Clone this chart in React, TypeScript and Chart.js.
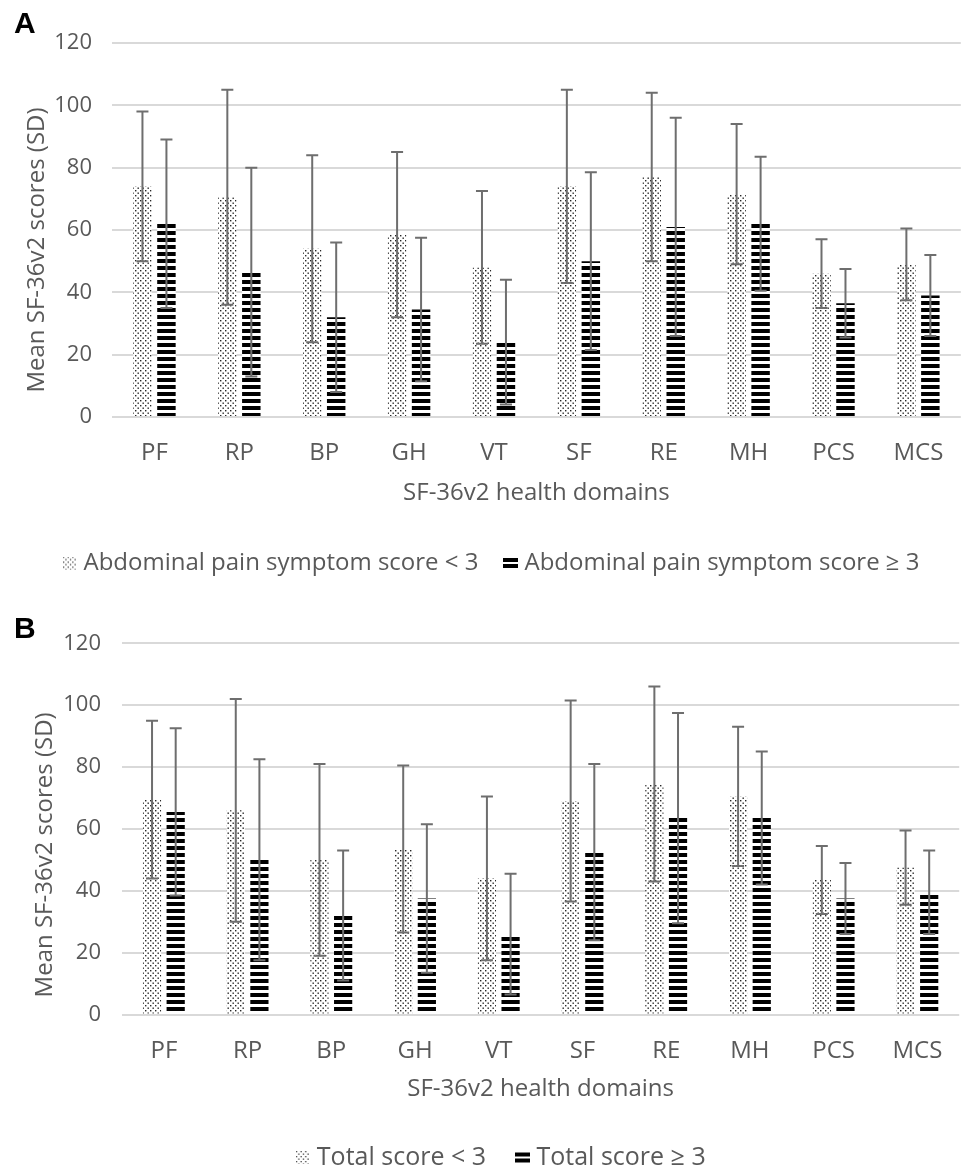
import React, { useEffect, useRef } from 'react';
import { Chart, registerables } from 'chart.js';
Chart.register(...registerables);

const categories = ['PF', 'RP', 'BP', 'GH', 'VT', 'SF', 'RE', 'MH', 'PCS', 'MCS'];
const yTickValues = [0, 20, 40, 60, 80, 100, 120];
const yTitle = 'Mean SF-36v2 scores (SD)';
const xTitle = 'SF-36v2 health domains';

const aLabels = ['Abdominal pain symptom score < 3', 'Abdominal pain symptom score ≥ 3'];
const aLowMean = [74, 70.5, 54, 58.5, 48, 74, 77, 71.5, 46, 49];
const aLowSD = [24, 34.5, 30, 26.5, 24.5, 31, 27, 22.5, 11, 11.5];
const aHighMean = [62, 46.5, 32, 34.5, 24, 50, 61, 62, 36.5, 39];
const aHighSD = [27, 33.5, 24, 23, 20, 28.5, 35, 21.5, 11, 13];

const bLabels = ['Total score < 3', 'Total score ≥ 3'];
const bLowMean = [69.5, 66, 50, 53.5, 44, 69, 74.5, 70.5, 43.5, 47.5];
const bLowSD = [25.5, 36, 31, 27, 26.5, 32.5, 31.5, 22.5, 11, 12];
const bHighMean = [65.5, 50, 32, 37.5, 26, 52.5, 63.5, 63.5, 37.5, 39.5];
const bHighSD = [27, 32.5, 21, 24, 19.5, 28.5, 34, 21.5, 11.5, 13.5];

const FONT = '"Open Sans", "Noto Sans", sans-serif';
const TEXT = '#595959';
const GRID = '#d9d9d9';
const ERR = '#6e6e6e';

function dotTile(): HTMLCanvasElement {
  const c = document.createElement('canvas');
  c.width = 5;
  c.height = 5;
  const g = c.getContext('2d')!;
  g.fillStyle = '#ffffff';
  g.fillRect(0, 0, 5, 5);
  g.fillStyle = '#262626';
  g.fillRect(0, 0, 1.4, 1.4);
  g.fillRect(2.5, 2.5, 1.4, 1.4);
  return c;
}

function stripeTile(): HTMLCanvasElement {
  const c = document.createElement('canvas');
  c.width = 2;
  c.height = 7;
  const g = c.getContext('2d')!;
  g.fillStyle = '#ffffff';
  g.fillRect(0, 0, 2, 7);
  g.fillStyle = '#000000';
  g.fillRect(0, 0, 2, 4);
  return c;
}

function dotIcon(): HTMLCanvasElement {
  const c = document.createElement('canvas');
  c.width = 13;
  c.height = 13;
  const g = c.getContext('2d')!;
  g.fillStyle = '#444';
  for (let y = 0; y < 13; y += 2.5) {
    const row = Math.round(y / 2.5);
    for (let x = row % 2 ? 2.3 : 0; x < 13; x += 4.6) {
      g.fillRect(x, y, 1.3, 1.3);
    }
  }
  return c;
}

function eqIcon(): HTMLCanvasElement {
  const c = document.createElement('canvas');
  c.width = 15;
  c.height = 12;
  const g = c.getContext('2d')!;
  g.fillStyle = '#000';
  g.fillRect(0, 1, 15, 4);
  g.fillRect(0, 7, 15, 4);
  return c;
}

const errorBars = {
  id: 'errorBars',
  afterDatasetsDraw(chart: any) {
    const ctx = chart.ctx;
    const ys = chart.scales.y;
    chart.data.datasets.forEach((ds: any, di: number) => {
      const meta = chart.getDatasetMeta(di);
      meta.data.forEach((bar: any, i: number) => {
        const v = ds.data[i];
        const sd = ds.errors[i];
        const x = bar.x;
        const yt = ys.getPixelForValue(v + sd);
        const yb = ys.getPixelForValue(v - sd);
        ctx.save();
        ctx.strokeStyle = ERR;
        ctx.lineWidth = 2;
        ctx.beginPath();
        ctx.moveTo(x, yt);
        ctx.lineTo(x, yb);
        ctx.moveTo(x - 6, yt);
        ctx.lineTo(x + 6, yt);
        ctx.moveTo(x - 6, yb);
        ctx.lineTo(x + 6, yb);
        ctx.stroke();
        ctx.restore();
      });
    });
  },
};

const yTitlePlugin = {
  id: 'yTitleCustom',
  afterDraw(chart: any, _args: any, opts: any) {
    const { ctx, chartArea } = chart;
    ctx.save();
    ctx.translate(opts.x, (chartArea.top + chartArea.bottom) / 2 + opts.dy);
    ctx.rotate(-Math.PI / 2);
    ctx.font = `24px ${FONT}`;
    ctx.fillStyle = TEXT;
    ctx.textAlign = 'center';
    ctx.textBaseline = 'middle';
    ctx.fillText(yTitle, 0, 0);
    ctx.restore();
  },
};

type PanelProps = {
  labels: string[];
  lowMean: number[];
  lowSD: number[];
  highMean: number[];
  highSD: number[];
  top: number;
  height: number;
  padLeft: number;
  yWidth: number;
  yTitleX: number;
  yTitleDy: number;
  yTickPad: number;
  padTop: number;
  padBottom: number;
  xHeight: number;
  xTickPad: number;
  xTitlePad: number;
  legendPad: number;
  legendFont: number;
};

function Panel(p: PanelProps) {
  const ref = useRef<HTMLCanvasElement | null>(null);
  useEffect(() => {
    const canvas = ref.current!;
    const ctx = canvas.getContext('2d')!;
    const dotPat = ctx.createPattern(dotTile(), 'repeat')!;
    const stripePat = ctx.createPattern(stripeTile(), 'repeat')!;
    const icons = [dotIcon(), eqIcon()];
    const chart = new Chart(canvas, {
      type: 'bar',
      data: {
        labels: categories,
        datasets: [
          {
            label: p.labels[0],
            data: p.lowMean,
            errors: p.lowSD,
            backgroundColor: dotPat,
            borderWidth: 0,
            categoryPercentage: 0.565,
            barPercentage: 0.77,
          } as any,
          {
            label: p.labels[1],
            data: p.highMean,
            errors: p.highSD,
            backgroundColor: stripePat,
            borderWidth: 0,
            categoryPercentage: 0.565,
            barPercentage: 0.77,
          } as any,
        ],
      },
      options: {
        animation: false,
        responsive: false,
        events: [],
        layout: { padding: { left: p.padLeft, right: 2, top: p.padTop, bottom: p.padBottom } },
        scales: {
          x: {
            grid: { display: false, drawTicks: false },
            border: { display: false },
            ticks: { color: TEXT, font: { family: FONT, size: 24 }, padding: p.xTickPad, maxRotation: 0 },
            title: {
              display: true,
              text: xTitle,
              color: TEXT,
              font: { family: FONT, size: 24 },
              padding: { top: 0, bottom: p.xTitlePad },
            },
            afterFit: (s: any) => {
              s.height = p.xHeight;
            },
          },
          y: {
            min: 0,
            max: 120,
            afterBuildTicks: (s: any) => {
              s.ticks = yTickValues.map((v) => ({ value: v }));
            },
            grid: { color: GRID, lineWidth: 2, drawTicks: false },
            border: { display: false },
            ticks: { color: TEXT, font: { family: FONT, size: 22 }, padding: p.yTickPad },
            title: { display: false },
            afterFit: (s: any) => {
              s.width = p.yWidth;
            },
          },
        },
        plugins: {
          tooltip: { enabled: false },
          yTitleCustom: { x: p.yTitleX, dy: p.yTitleDy },
          legend: {
            position: 'bottom',
            labels: {
              usePointStyle: true,
              pointStyleWidth: 4,
              color: TEXT,
              font: { family: FONT, size: p.legendFont },
              padding: p.legendPad,
              generateLabels: (c: any) =>
                c.data.datasets.map((ds: any, i: number) => ({
                  text: ds.label,
                  pointStyle: icons[i],
                  fillStyle: 'rgba(0,0,0,0)',
                  strokeStyle: 'rgba(0,0,0,0)',
                  fontColor: TEXT,
                  lineWidth: 0,
                  hidden: false,
                  datasetIndex: i,
                })),
            },
          },
        },
      } as any,
      plugins: [errorBars, yTitlePlugin],
    });
    return () => chart.destroy();
  }, []);
  return (
    <div style={{ position: 'absolute', left: 0, top: p.top, width: 965, height: p.height }}>
      <canvas ref={ref} width={965} height={p.height} style={{ width: 965, height: p.height, display: 'block' }} />
    </div>
  );
}

const letterStyle: React.CSSProperties = {
  position: 'absolute',
  left: 14,
  fontFamily: '"Liberation Sans", Arial, sans-serif',
  fontWeight: 'bold',
  fontSize: 30,
  lineHeight: '30px',
  color: '#000',
};

export default function App() {
  return (
    <div
      style={{
        position: 'fixed',
        left: 0,
        top: 0,
        width: 965,
        height: 1172,
        overflow: 'hidden',
        background: '#fff',
      }}
    >
      <Panel
        labels={aLabels}
        lowMean={aLowMean}
        lowSD={aLowSD}
        highMean={aHighMean}
        highSD={aHighSD}
        top={0}
        height={600}
        padLeft={24}
        yWidth={88}
        yTitleX={37}
        yTitleDy={20}
        yTickPad={20}
        padTop={43}
        padBottom={15}
        xHeight={104}
        xTickPad={21.6}
        xTitlePad={13.6}
        legendPad={30}
        legendFont={24}
      />
      <Panel
        labels={bLabels}
        lowMean={bLowMean}
        lowSD={bLowSD}
        highMean={bHighMean}
        highSD={bHighSD}
        top={580}
        height={600}
        padLeft={43}
        yWidth={79}
        yTitleX={45}
        yTitleDy={26}
        yTickPad={21}
        padTop={63.3}
        padBottom={0}
        xHeight={96.5}
        xTickPad={22.6}
        xTitlePad={7.6}
        legendPad={34}
        legendFont={25}
      />
      <div style={{ ...letterStyle, top: 8 }}>A</div>
      <div style={{ ...letterStyle, top: 613 }}>B</div>
    </div>
  );
}
